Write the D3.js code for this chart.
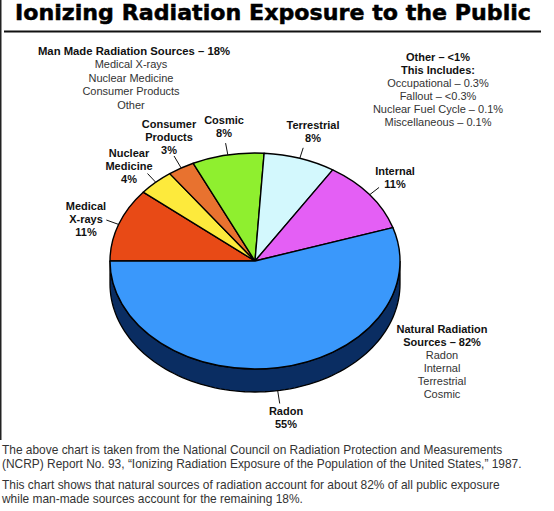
<!DOCTYPE html>
<html><head><meta charset="utf-8">
<script src="https://cdn.jsdelivr.net/npm/d3@7"></script>
<style>html,body{margin:0;padding:0;background:#fff}svg{display:block}text{font-family:"Liberation Sans",Arial,sans-serif;fill:#222}</style>
</head><body><svg id="c" width="554" height="511"></svg>
<script>
const categories = ["Medical X-rays","Nuclear Medicine","Consumer Products","Cosmic","Terrestrial","Internal","Radon"];
const values = [11,4,3,8,8,11,55];
const topColors = ["#e84a16","#fdea3c","#e8722f","#8fef2f","#d3f8fd","#e45ff5","#3a98fb"];
const titleText = "Ionizing Radiation Exposure to the Public";
const manMade = ["Man Made Radiation Sources – 18%","Medical X-rays","Nuclear Medicine","Consumer Products","Other"];
const otherLines = ["Other – <1%","This Includes:","Occupational – 0.3%","Fallout – <0.3%","Nuclear Fuel Cycle – 0.1%","Miscellaneous – 0.1%"];
const naturalLines = ["Natural Radiation","Sources – 82%","Radon","Internal","Terrestrial","Cosmic"];
const sliceLabels = [["Medical","X-rays","11%"],["Nuclear","Medicine","4%"],["Consumer","Products","3%"],["Cosmic","8%"],["Terrestrial","8%"],["Internal","11%"],["Radon","55%"]];
const footerLines = ["The above chart is taken from the National Council on Radiation Protection and Measurements",
 "(NCRP) Report No. 93, “Ionizing Radiation Exposure of the Population of the United States,” 1987.",
 "This chart shows that natural sources of radiation account for about 82% of all public exposure",
 "while man-made sources account for the remaining 18%."];

// layout
const labelAnchors = [[86,210],[129,157],[169,128],[224,124],[313,129],[395,175],[286,415]];
const leaderLengths = [13,12,14,12,11,12,13];
const footerY = [454,468,489,503];
const svg = d3.select("#c");
const cx=255, cy=261, rx=145, ry=108, depth=23;
const sx=d3.scaleLinear().domain([-1,1]).range([cx-rx,cx+rx]);
const sy=d3.scaleLinear().domain([-1,1]).range([cy-ry,cy+ry]);

svg.append("rect").attr("x",0).attr("y",0).attr("width",1.5).attr("height",440).attr("fill","#222");
svg.append("text").attr("x",15).attr("y",20).attr("font-size",21.5).attr("font-weight",700)
  .attr("textLength",516).attr("lengthAdjust","spacingAndGlyphs")
  .style("font-family","'DejaVu Sans'").style("stroke","#000").style("stroke-width",0.5).style("fill","#000").text(titleText);
svg.append("rect").attr("x",4).attr("y",30.5).attr("width",537).attr("height",2).attr("fill","#111");

const pie=d3.pie().sort(null).value(d=>d).startAngle(-Math.PI/2).endAngle(Math.PI*1.5);
const arcs=pie(values);
const arc=d3.arc().innerRadius(0).outerRadius(1);

const pt=a=>[sx(Math.sin(a)),sy(-Math.cos(a))];
const rimPts=d3.range(91).map(i=>pt(Math.PI/2+i*Math.PI/90));
const rimBottom=rimPts.slice().reverse().map(p=>[p[0],p[1]+depth]);
svg.append("path").attr("d",d3.line()(rimPts.concat(rimBottom))+"Z")
  .attr("fill","#0a2d62").attr("stroke","#000").attr("stroke-width",1.3);

const g=svg.append("g").attr("transform",`translate(${cx},${cy}) scale(${rx},${ry})`);
g.selectAll("path").data(arcs).join("path").attr("d",arc)
  .attr("fill",(d,i)=>topColors[i]).attr("stroke","#000").attr("stroke-width",1.4)
  .attr("vector-effect","non-scaling-stroke").attr("stroke-linejoin","round");

arcs.forEach((d,i)=>{
  const m=(d.startAngle+d.endAngle)/2;
  const p=pt(m); const off=i===6?depth:0;
  const x1=p[0], y1=p[1]+off, len=leaderLengths[i];
  svg.append("line").attr("x1",x1).attr("y1",y1).attr("x2",x1+Math.sin(m)*len).attr("y2",y1-Math.cos(m)*len)
    .attr("stroke","#111").attr("stroke-width",1);
});

function block(lines,x,y,lh,boldCount,size){
  lines.forEach((t,i)=>{
    svg.append("text").attr("x",x).attr("y",y+i*lh).attr("text-anchor","middle")
     .attr("font-size",size).attr("font-weight",i<boldCount?700:400).style("fill",i<boldCount?"#111":"#333").text(t);
  });
}
sliceLabels.forEach((l,i)=>block(l,labelAnchors[i][0],labelAnchors[i][1],13,l.length,11));
block(manMade.slice(0,1),134,54.7,13.6,1,11.3);
block(manMade.slice(1),131,68,13.6,0,11);
block(otherLines,438,61,13,2,11);
block(naturalLines,442,333,13,2,11);
footerLines.forEach((t,i)=>svg.append("text").attr("x",2).attr("y",footerY[i]).attr("font-size",11.93).style("fill","#333").text(t));
</script></body></html>
